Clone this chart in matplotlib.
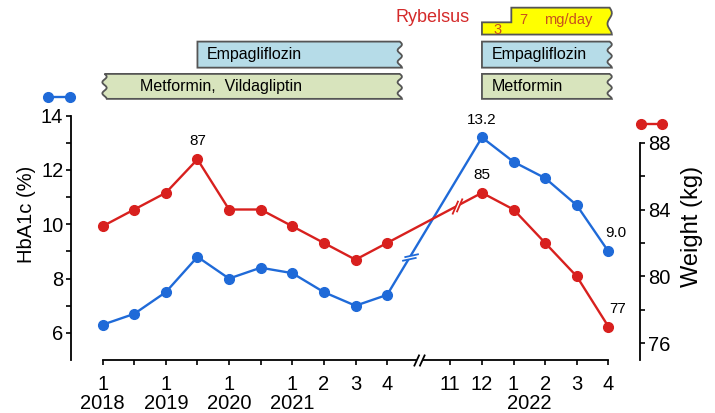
import numpy as np
import matplotlib
matplotlib.use('Agg')
import matplotlib.pyplot as plt
from matplotlib.path import Path
from matplotlib.patches import Polygon

plt.rcParams['font.family'] = ['Liberation Sans', 'DejaVu Sans']

# x positions (evenly spaced visits); 10 is the axis break
pts = [0, 1, 2, 3, 4, 5, 6, 7, 8, 9, 12, 13, 14, 15, 16]
hba1c = [6.3, 6.7, 7.5, 8.8, 8.0, 8.4, 8.2, 7.5, 7.0, 7.4, 13.2, 12.3, 11.7, 10.7, 9.0]
weight = [83, 84, 85, 87, 84, 84, 83, 82, 81, 82, 85, 84, 82, 80, 77]

tick_pos = [0, 1, 2, 3, 4, 5, 6, 7, 8, 9, 11, 12, 13, 14, 15, 16]
tick_lab = ['1', '', '1', '', '1', '', '1', '2', '3', '4', '11', '12', '1', '2', '3', '4']
year_pos = [0, 2, 4, 6, 13.5]
year_lab = ['2018', '2019', '2020', '2021', '2022']

BLUE = '#1f6ad8'
RED = '#d8201e'

fig = plt.figure(figsize=(7.15, 4.13), dpi=100)
ax = fig.add_axes([71/715, 53/413, 569/715, 244.3/413])
ax2 = ax.twinx()

ax.plot(pts, hba1c, '-o', color=BLUE, lw=1.7, ms=7, zorder=3, clip_on=False)
ax2.plot(pts, weight, '-o', color=RED, lw=1.7, ms=7, zorder=3, clip_on=False)

ax.set_xlim(-1, 17)
ax.set_ylim(5, 14)
ax2.set_ylim(75, 89.61)

for s in ['top', 'right']:
    ax.spines[s].set_visible(False)
for s in ['top', 'left', 'bottom']:
    ax2.spines[s].set_visible(False)
ax.spines['left'].set_bounds(5, 14)
ax.spines['bottom'].set_bounds(0, 16)
ax2.spines['right'].set_bounds(75, 88)
for sp in [ax.spines['left'], ax.spines['bottom'], ax2.spines['right']]:
    sp.set_linewidth(1.3)

ax.set_xticks(tick_pos)
ax.set_xticklabels(tick_lab)
ax.set_yticks([6, 8, 10, 12, 14])
ax.set_yticks([7, 9, 11, 13], minor=True)
ax2.set_yticks([76, 80, 84, 88])
ax2.set_yticks([78, 82, 86], minor=True)
ax.tick_params(axis='both', which='major', direction='out', length=3.5, width=1.2, labelsize=14.5, pad=2)
ax.tick_params(axis='x', pad=7)
ax.tick_params(axis='y', which='minor', direction='out', length=3.5, width=1.2)
ax2.tick_params(axis='y', which='major', direction='out', length=3.5, width=1.2, labelsize=14.5, pad=2)
ax2.tick_params(axis='y', which='minor', direction='out', length=3.5, width=1.2)

for xp, yl in zip(year_pos, year_lab):
    ax.text(xp, 3.41, yl, ha='center', va='center', fontsize=14.5, clip_on=False)

fig.text(26/715, 1 - 214/413, 'HbA1c (%)', rotation=90, ha='center', va='center', fontsize=14.5)
fig.text(692/715, 1 - 226/413, 'Weight (kg)', rotation=90, ha='center', va='center', fontsize=17)

# value labels
ax2.annotate('87', (3, 87), xytext=(0, 18), textcoords='offset pixels', ha='center', va='center', fontsize=11)
ax.annotate('13.2', (12, 13.2), xytext=(0, 17), textcoords='offset pixels', ha='center', va='center', fontsize=11)
ax2.annotate('85', (12, 85), xytext=(0, 18), textcoords='offset pixels', ha='center', va='center', fontsize=11)
ax.annotate('9.0', (16, 9.0), xytext=(7, 18), textcoords='offset pixels', ha='center', va='center', fontsize=11)
ax2.annotate('77', (16, 77), xytext=(9, 18), textcoords='offset pixels', ha='center', va='center', fontsize=11)


def brk(a, x, y, half, sep, color, ms):
    # two parallel slashes with a white gap, drawn as a custom marker
    (hx, hy), (sx, sy) = half, sep
    p1 = [(-hx - sx, -hy - sy), (hx - sx, hy - sy)]
    p2 = [(-hx + sx, -hy + sy), (hx + sx, hy + sy)]
    fill = Path(p1 + p2[::-1] + [p1[0]], [Path.MOVETO, Path.LINETO, Path.LINETO, Path.LINETO, Path.CLOSEPOLY])
    lines = Path(p1 + p2, [Path.MOVETO, Path.LINETO, Path.MOVETO, Path.LINETO])
    a.plot([x], [y], marker=fill, ms=ms, mfc='white', mec='white', mew=0.5, ls='none', zorder=5, clip_on=False)
    a.plot([x], [y], marker=lines, ms=ms, mfc='none', mec=color, mew=1.3, ls='none', zorder=6, clip_on=False)


brk(ax, 10, 5, (2.5, 5.5), (2.6, 0), 'black', 8.5)
bx = 9.72
brk(ax, bx, np.interp(bx, [9, 12], [hba1c[9], hba1c[10]]), (8.3, 1.8), (1.3, 2.1), BLUE, 12)
rx = 11.2
brk(ax2, rx, np.interp(rx, [9, 12], [weight[9], weight[10]]), (3, 7), (2.2, 1.15), RED, 11.5)

# legend markers
ax.plot([-1.74, -1.04], [14.69, 14.69], '-o', color=BLUE, lw=1.7, ms=7, clip_on=False)
ax2.plot([17.03, 17.7], [89.11, 89.11], '-o', color=RED, lw=1.7, ms=7, clip_on=False)

# drug boxes above the plot
PX = 18 / 569


def drug_box(x0, x1, y0, y1, fc, wavy_left=False):
    t = np.linspace(0, 1, 25)
    w = 2.2 * np.sin(2 * np.pi * 2.25 * t) * PX
    ys = y1 - (y1 - y0) * t
    right = list(zip(x1 + w, ys))
    if wavy_left:
        left = list(zip(x0 + w[::-1], ys[::-1]))
    else:
        left = [(x0, y0), (x0, y1)]
    ax.add_patch(Polygon(right + left, closed=True, fc=fc, ec='#555555', lw=1.3, clip_on=False))


drug_box(0.06, 9.4, 14.62, 15.54, '#d8e4bd', wavy_left=True)
drug_box(3.0, 9.4, 15.77, 16.73, '#b6dce8')
drug_box(12.0, 16.04, 14.62, 15.54, '#d8e4bd')
drug_box(12.0, 16.04, 15.77, 16.73, '#b6dce8')
ax.text(1.17, 15.06, 'Metformin,  Vildagliptin', ha='left', va='center', fontsize=11.5)
ax.text(3.29, 16.25, 'Empagliflozin', ha='left', va='center', fontsize=11.5)
ax.text(12.31, 15.06, 'Metformin', ha='left', va='center', fontsize=11.5)
ax.text(12.31, 16.25, 'Empagliflozin', ha='left', va='center', fontsize=11.5)

# Rybelsus step box
t = np.linspace(0, 1, 15)
w = 2.2 * np.sin(2 * np.pi * 1.25 * t) * PX
yb, ys, yt = 16.99, 17.44, 17.98
edge = list(zip(16.04 + w, yt - (yt - yb) * t))
ryb = [(12.0, yb), (12.0, ys), (12.93, ys), (12.93, yt)] + edge
ax.add_patch(Polygon(ryb, closed=True, fc='#ffff00', ec='#555555', lw=1.3, clip_on=False))
ax.text(11.61, 17.62, 'Rybelsus', ha='right', va='center', fontsize=13, color='#d42a2a')
ax.text(12.5, 17.15, '3', ha='center', va='center', fontsize=10.5, color='#c8501e')
ax.text(13.32, 17.52, '7', ha='center', va='center', fontsize=10.5, color='#c8501e')
ax.text(14.72, 17.52, 'mg/day', ha='center', va='center', fontsize=10.5, color='#c8501e')

fig.savefig('out.png', dpi=100)
